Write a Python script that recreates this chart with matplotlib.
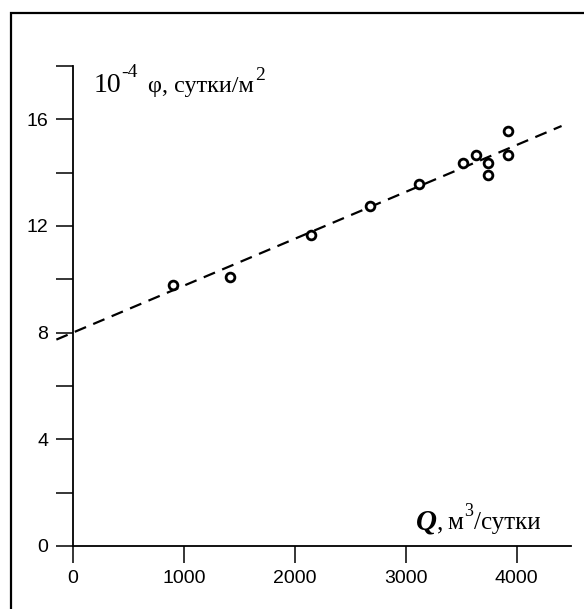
#ZAVISIMOST' phi OT Q
import matplotlib.pyplot as plt
from matplotlib.patches import Rectangle
from matplotlib.ticker import MultipleLocator, NullFormatter

#DANNYE
Q = [900, 1415, 2150, 2680, 3120, 3520, 3630, 3740, 3740, 3920, 3920]       # m3/sutki
phi = [9.78, 10.1, 11.68, 12.75, 13.58, 14.35, 14.65, 14.35, 13.9, 15.55, 14.65]
line_Q = [-150, 4405]            # koncy pryamoj
line_phi = [7.74, 15.75]
xticks = [0, 1000, 2000, 3000, 4000]
yticks = [0, 4, 8, 12, 16]

W, H = 584, 609
fig = plt.figure(figsize=(W / 100, H / 100), dpi=100)

def px(x, y):
  return x / W, 1 - y / H      # pikseli -> doli figury

# oblast' osej
l, b = px(73, 546)
r, t = px(571, 66)
ax = fig.add_axes([l, b, r - l, t - b])
ax.set_xlim(0, 4490)
ax.set_ylim(0, 18)
for s in ["top", "right"]:
  ax.spines[s].set_visible(False)
for s in ["left", "bottom"]:
  ax.spines[s].set_linewidth(1.3)

ax.set_xticks(xticks)
ax.set_yticks(yticks)
ax.yaxis.set_minor_locator(MultipleLocator(2))
ax.yaxis.set_minor_formatter(NullFormatter())
ax.tick_params(which="both", direction="out", length=12, width=1.1, color="black")
ax.tick_params(axis="y", pad=6)
ax.tick_params(axis="x", pad=5)
for lab in ax.get_xticklabels() + ax.get_yticklabels():
  lab.set_fontfamily("Liberation Sans")
  lab.set_fontsize(14)

# tochki i pryamaya
ax.plot(line_Q, line_phi, color="black", lw=1.6, dashes=(5.5, 3.5), clip_on=False)
ax.plot(Q, phi, "o", mfc="white", mec="black", ms=6.3, mew=2.0, clip_on=False)

# podpisi osej
serif = "Liberation Serif"
fig.text(*px(94, 92), "10", fontsize=20, family=serif)
fig.text(*px(121, 77), "-4", fontsize=14, family=serif)
fig.text(*px(148, 92), "φ, сутки/м", fontsize=17.5, family=serif)
fig.text(*px(255, 80), "2", fontsize=14, family=serif)

fig.text(*px(416, 529), "Q", fontsize=21, family=serif, weight="bold", style="italic")
fig.text(*px(437, 529), ",", fontsize=18, family=serif)
fig.text(*px(447, 529), "м", fontsize=18, family=serif)
fig.text(*px(464, 516), "3", fontsize=13, family=serif)
fig.text(*px(474, 529), "/сутки", fontsize=18, family=serif)

# vneshnyaya ramka
fig.patches.append(Rectangle(px(11, H + 20), (W + 20) / W, (H + 20 - 13) / H,
                             transform=fig.transFigure, fill=False, lw=1.6,
                             ec="black", clip_on=False))

plt.savefig("out.png", dpi=100)
